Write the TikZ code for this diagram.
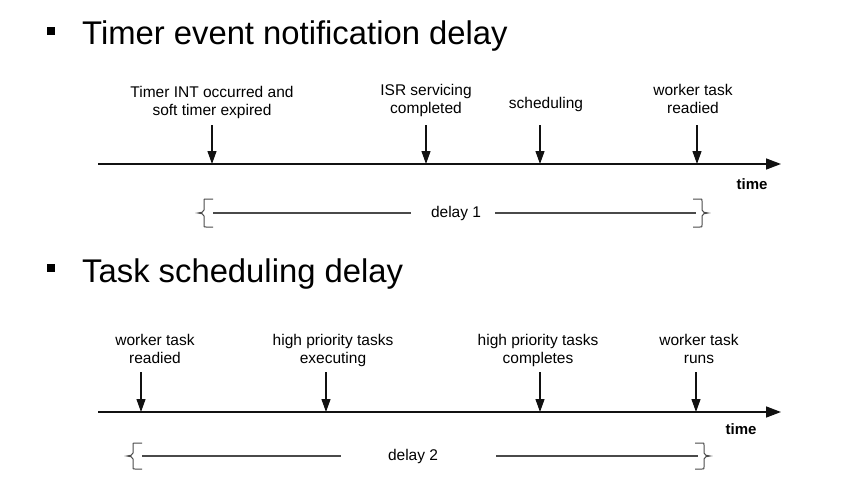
\documentclass[tikz,border=0pt]{standalone}
\usepackage{fontspec}
\setmainfont{Liberation Sans}
\usetikzlibrary{arrows.meta}
\definecolor{axiscol}{HTML}{111111}
\definecolor{dline}{HTML}{4A4A4A}
\tikzset{
  lbl/.style={font=\fontsize{15.5}{18}\selectfont, align=center, inner sep=0pt, anchor=north, text=black},
  titletext/.style={font=\fontsize{32.8}{38}\selectfont, anchor=base west, inner sep=0pt},
  bulletsq/.style={fill=black, minimum size=8.5pt, inner sep=0pt},
  axisline/.style={line width=1.5pt, draw=axiscol, -{Triangle[length=15pt,width=11pt]}},
  evarrow/.style={line width=1.2pt, draw=axiscol, -{Triangle[length=13pt,width=9pt]}},
  delayline/.style={line width=1.1pt, draw=dline},
  bracestyle/.style={line width=1pt, draw=dline},
  timelbl/.style={font=\fontsize{15}{18}\selectfont\bfseries, inner sep=0pt, anchor=base},
  delaylbl/.style={font=\fontsize{15.5}{18}\selectfont, inner sep=0pt},
  pics/lbrace/.style={code={
    \draw[bracestyle] (15,{-#1}) -- (8,{-#1}) .. controls (6,{-#1}) .. (6,{-#1+2})
      -- (6,-3) .. controls (6,-1) and (3,0) .. (0,0) .. controls (3,0) and (6,1) .. (6,3)
      -- (6,{#1-2}) .. controls (6,{#1}) .. (8,{#1}) -- (15,{#1});
  }},
}
\begin{document}
\begin{tikzpicture}[x=1pt,y=-1pt]
\useasboundingbox (0,0) rectangle (843,503);

% ---------- section 1 ----------
\node[bulletsq] (b1) at (51,31) {};
\node[titletext] (t1) at (82,45) {Timer event notification delay};

\coordinate (a1s) at (98,164);
\coordinate (a1e) at (781,164);
\draw[axisline] (a1s) -- (a1e);

\node[lbl] (e11) at (212,86) {Timer INT occurred and\\soft timer expired};
\node[lbl] (e12) at (426,84) {ISR servicing\\completed};
\node[lbl] (e13) at (546,97) {scheduling};
\node[lbl] (e14) at (693,84) {worker task\\readied};

\coordinate (p11s) at (212,125); \coordinate (p11) at (212,164);
\coordinate (p12s) at (426,125); \coordinate (p12) at (426,164);
\coordinate (p13s) at (540,125); \coordinate (p13) at (540,164);
\coordinate (p14s) at (697,125); \coordinate (p14) at (697,164);
\draw[evarrow] (p11s) -- (p11);
\draw[evarrow] (p12s) -- (p12);
\draw[evarrow] (p13s) -- (p13);
\draw[evarrow] (p14s) -- (p14);

\node[timelbl] (time1) at (752,189) {time};

\pic at (198,213) {lbrace=14};
\pic[xscale=-1] at (708,213) {lbrace=14};
\node[delaylbl] (d1) at (456,213) {delay 1};
\coordinate (d1l) at (213,213);
\coordinate (d1r) at (696,213);
\draw[delayline] (d1l) -- ([xshift=-20pt]d1.west);
\draw[delayline] ([xshift=14pt]d1.east) -- (d1r);

% ---------- section 2 ----------
\node[bulletsq] (b2) at (51,268) {};
\node[titletext] (t2) at (82,282) {Task scheduling delay};

\coordinate (a2s) at (98,412);
\coordinate (a2e) at (781,412);
\draw[axisline] (a2s) -- (a2e);

\node[lbl] (e21) at (155,334) {worker task\\readied};
\node[lbl] (e22) at (333,334) {high priority tasks\\executing};
\node[lbl] (e23) at (538,334) {high priority tasks\\completes};
\node[lbl] (e24) at (699,334) {worker task\\runs};

\coordinate (p21s) at (141,372); \coordinate (p21) at (141,412);
\coordinate (p22s) at (326,372); \coordinate (p22) at (326,412);
\coordinate (p23s) at (540,372); \coordinate (p23) at (540,412);
\coordinate (p24s) at (696,372); \coordinate (p24) at (696,412);
\draw[evarrow] (p21s) -- (p21);
\draw[evarrow] (p22s) -- (p22);
\draw[evarrow] (p23s) -- (p23);
\draw[evarrow] (p24s) -- (p24);

\node[timelbl] (time2) at (741,434) {time};

\pic at (127,456) {lbrace=13};
\pic[xscale=-1] at (710,456) {lbrace=13};
\node[delaylbl] (d2) at (413,456) {delay 2};
\coordinate (d2l) at (142,456);
\coordinate (d2r) at (698,456);
\draw[delayline] (d2l) -- ([xshift=-47pt]d2.west);
\draw[delayline] ([xshift=58pt]d2.east) -- (d2r);
\end{tikzpicture}
\end{document}
